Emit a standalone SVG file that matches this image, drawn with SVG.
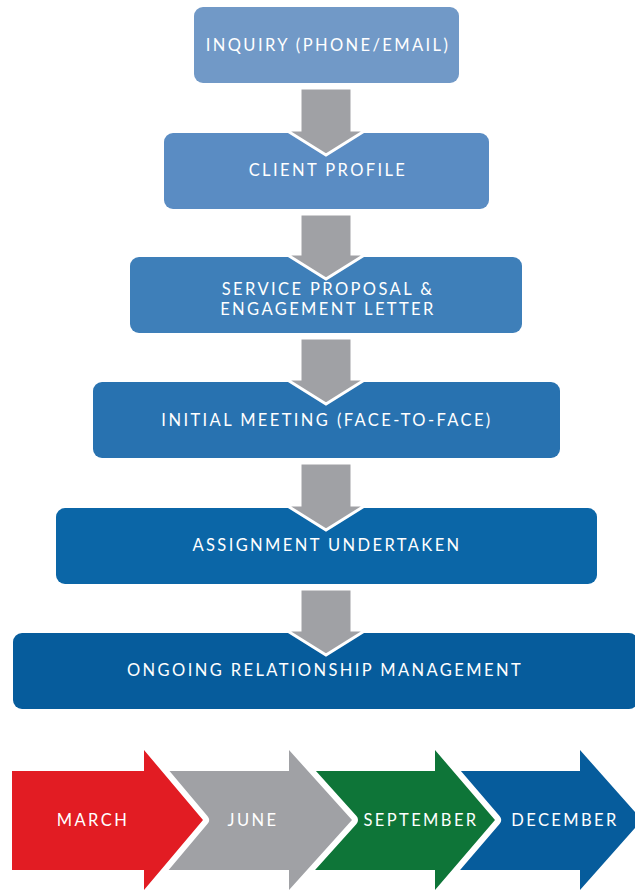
<svg xmlns="http://www.w3.org/2000/svg" width="635" height="890" viewBox="0 0 635 890">
<style>
.box{stroke:none}
.t{font-family:Lato,"Open Sans","Liberation Sans",sans-serif;font-size:16.5px;fill:#ffffff;text-anchor:middle;letter-spacing:2.4px}
.arr{fill:#a0a1a5;stroke:#ffffff;stroke-width:3;stroke-linejoin:miter}
.m{stroke:#ffffff;stroke-width:12;stroke-linejoin:round;paint-order:stroke}
</style>
<rect width="635" height="890" fill="#ffffff"/>
<g id="node1"><rect class="box" x="194" y="7" width="265" height="76" rx="9" fill="#7199c7"/><text class="t" x="328" y="51">INQUIRY (PHONE/EMAIL)</text></g>
<g id="node2"><rect class="box" x="164" y="133" width="325" height="76" rx="9" fill="#5a8cc3"/><text class="t" x="328" y="176">CLIENT PROFILE</text></g>
<g id="node3"><rect class="box" x="130" y="257" width="392" height="76" rx="9" fill="#3e7fb9"/><text class="t" x="328" y="295">SERVICE PROPOSAL &amp;</text><text class="t" x="328" y="315">ENGAGEMENT LETTER</text></g>
<g id="node4"><rect class="box" x="93" y="382" width="467" height="76" rx="9" fill="#2872b0"/><text class="t" x="327" y="426">INITIAL MEETING (FACE-TO-FACE)</text></g>
<g id="node5"><rect class="box" x="56" y="508" width="541" height="76" rx="9" fill="#0b66a7"/><text class="t" x="327" y="551">ASSIGNMENT UNDERTAKEN</text></g>
<g id="node6"><rect class="box" x="13" y="633" width="625" height="76" rx="9" fill="#065c9c"/><text class="t" x="325" y="676">ONGOING RELATIONSHIP MANAGEMENT</text></g>
<g id="connectors">
<polygon class="arr" points="300,88 352,88 352,130 366,130 326,155 286,130 300,130"/>
<polygon class="arr" points="300,214 352,214 352,254 366,254 326,279 286,254 300,254"/>
<polygon class="arr" points="300,338 352,338 352,379 366,379 326,404 286,379 300,379"/>
<polygon class="arr" points="300,463 352,463 352,505 366,505 326,530 286,505 300,505"/>
<polygon class="arr" points="300,589 352,589 352,630 366,630 326,655 286,630 300,630"/>
</g>
<g id="timeline">
<g id="december"><polygon class="m" fill="#065c9c" points="440,771 580,771 580,750 642,820 580,890 580,870 440,870"/><text class="t" x="565" y="826">DECEMBER</text></g>
<g id="september"><polygon class="m" fill="#0e7538" points="295,771 435,771 435,750 495,820 435,890 435,870 295,870"/><text class="t" x="421" y="826">SEPTEMBER</text></g>
<g id="june"><polygon class="m" fill="#a0a1a5" points="150,771 289,771 289,750 352,820 289,890 289,870 150,870"/><text class="t" x="253" y="826">JUNE</text></g>
<g id="march"><polygon class="m" fill="#e21c23" points="12,771 144,771 144,750 203,820 144,890 144,870 12,870"/><text class="t" x="93" y="826">MARCH</text></g>
</g>
</svg>
